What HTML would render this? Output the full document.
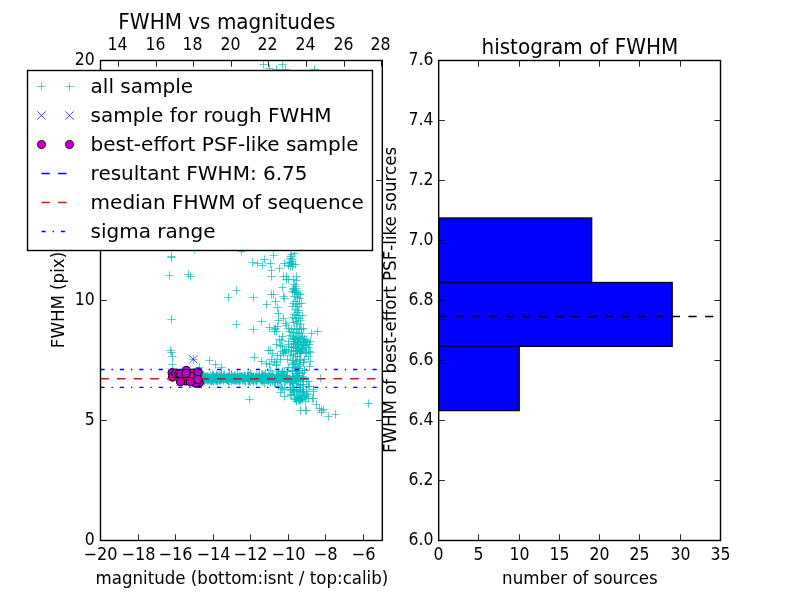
<!DOCTYPE html>
<html><head><meta charset="utf-8"><title>FWHM vs magnitudes</title>
<style>html,body{margin:0;padding:0;background:#fff}svg{display:block}</style></head>
<body>
<svg width="800" height="600" viewBox="0 0 800 600" font-family="DejaVu Sans, Liberation Sans, sans-serif" fill="#000">
<rect width="800" height="600" fill="#fff"/>
<clipPath id="cl"><rect x="100.0" y="60.0" width="281.82" height="480.0"/></clipPath>
<g clip-path="url(#cl)">
<path d="M166.3 350.5h8.3M170.5 346.3v8.3M167.3 352.5h8.3M171.5 348.3v8.3M168.3 356.5h8.3M172.5 352.3v8.3M168.3 364.5h8.3M172.5 360.3v8.3M189.3 359.5h8.3M193.5 355.3v8.3M195.3 367.5h8.3M199.5 363.3v8.3M205.3 360.5h8.3M209.5 356.3v8.3M211.3 364.5h8.3M215.5 360.3v8.3M217.3 367.5h8.3M221.5 363.3v8.3M167.3 256.5h8.3M171.5 252.3v8.3M167.3 257.5h8.3M171.5 253.3v8.3M165.3 275.5h8.3M169.5 271.3v8.3M184.3 274.5h8.3M188.5 270.3v8.3M186.3 276.5h8.3M190.5 272.3v8.3M190.3 249.5h8.3M194.5 245.3v8.3M224.3 297.5h8.3M228.5 293.3v8.3M232.3 290.5h8.3M236.5 286.3v8.3M167.3 319.5h8.3M171.5 315.3v8.3M232.3 324.5h8.3M236.5 320.3v8.3M237.3 251.5h8.3M241.5 247.3v8.3M248.3 262.5h8.3M252.5 258.3v8.3M253.3 263.5h8.3M257.5 259.3v8.3M258.3 265.5h8.3M262.5 261.3v8.3M260.3 259.5h8.3M264.5 255.3v8.3M269.3 255.5h8.3M273.5 251.3v8.3M266.3 263.5h8.3M270.5 259.3v8.3M267.3 270.5h8.3M271.5 266.3v8.3M267.3 276.5h8.3M271.5 272.3v8.3M275.3 268.5h8.3M279.5 264.3v8.3M280.3 263.5h8.3M284.5 259.3v8.3M287.3 254.5h8.3M291.5 250.3v8.3M286.3 258.5h8.3M290.5 254.3v8.3M288.3 259.5h8.3M292.5 255.3v8.3M285.3 262.5h8.3M289.5 258.3v8.3M287.3 263.5h8.3M291.5 259.3v8.3M289.3 264.5h8.3M293.5 260.3v8.3M291.3 264.5h8.3M295.5 260.3v8.3M284.3 265.5h8.3M288.5 261.3v8.3M290.3 253.5h8.3M294.5 249.3v8.3M286.3 256.5h8.3M290.5 252.3v8.3M287.3 261.5h8.3M291.5 257.3v8.3M288.3 266.5h8.3M292.5 262.3v8.3M286.3 266.5h8.3M290.5 262.3v8.3M279.3 276.5h8.3M283.5 272.3v8.3M282.3 276.5h8.3M286.5 272.3v8.3M282.3 279.5h8.3M286.5 275.3v8.3M284.3 279.5h8.3M288.5 275.3v8.3M292.3 276.5h8.3M296.5 272.3v8.3M289.3 279.5h8.3M293.5 275.3v8.3M292.3 280.5h8.3M296.5 276.3v8.3M278.3 287.5h8.3M282.5 283.3v8.3M290.3 284.5h8.3M294.5 280.3v8.3M291.3 286.5h8.3M295.5 282.3v8.3M289.3 288.5h8.3M293.5 284.3v8.3M291.3 290.5h8.3M295.5 286.3v8.3M288.3 291.5h8.3M292.5 287.3v8.3M290.3 292.5h8.3M294.5 288.3v8.3M294.3 293.5h8.3M298.5 289.3v8.3M289.3 289.5h8.3M293.5 285.3v8.3M292.3 288.5h8.3M296.5 284.3v8.3M267.3 294.5h8.3M271.5 290.3v8.3M269.3 294.5h8.3M273.5 290.3v8.3M249.3 297.5h8.3M253.5 293.3v8.3M279.3 296.5h8.3M283.5 292.3v8.3M280.3 298.5h8.3M284.5 294.3v8.3M262.3 304.5h8.3M266.5 300.3v8.3M271.3 301.5h8.3M275.5 297.3v8.3M273.3 307.5h8.3M277.5 303.3v8.3M274.3 313.5h8.3M278.5 309.3v8.3M257.3 321.5h8.3M261.5 317.3v8.3M274.3 320.5h8.3M278.5 316.3v8.3M279.3 318.5h8.3M283.5 314.3v8.3M249.3 329.5h8.3M253.5 325.3v8.3M265.3 327.5h8.3M269.5 323.3v8.3M270.3 329.5h8.3M274.5 325.3v8.3M271.3 328.5h8.3M275.5 324.3v8.3M270.3 331.5h8.3M274.5 327.3v8.3M272.3 331.5h8.3M276.5 327.3v8.3M273.3 326.5h8.3M277.5 322.3v8.3M281.3 323.5h8.3M285.5 319.3v8.3M282.3 325.5h8.3M286.5 321.3v8.3M278.3 336.5h8.3M282.5 332.3v8.3M275.3 339.5h8.3M279.5 335.3v8.3M277.3 340.5h8.3M281.5 336.3v8.3M272.3 344.5h8.3M276.5 340.3v8.3M276.3 345.5h8.3M280.5 341.3v8.3M284.3 344.5h8.3M288.5 340.3v8.3M307.3 333.5h8.3M311.5 329.3v8.3M313.3 331.5h8.3M317.5 327.3v8.3M300.3 339.5h8.3M304.5 335.3v8.3M301.3 342.5h8.3M305.5 338.3v8.3M264.3 350.5h8.3M268.5 346.3v8.3M266.3 350.5h8.3M270.5 346.3v8.3M268.3 353.5h8.3M272.5 349.3v8.3M250.3 357.5h8.3M254.5 353.3v8.3M257.3 361.5h8.3M261.5 357.3v8.3M262.3 363.5h8.3M266.5 359.3v8.3M270.3 361.5h8.3M274.5 357.3v8.3M245.3 399.5h8.3M249.5 395.3v8.3M280.3 396.5h8.3M284.5 392.3v8.3M296.3 410.5h8.3M300.5 406.3v8.3M301.3 410.5h8.3M305.5 406.3v8.3M292.3 401.5h8.3M296.5 397.3v8.3M301.3 401.5h8.3M305.5 397.3v8.3M308.3 398.5h8.3M312.5 394.3v8.3M312.3 404.5h8.3M316.5 400.3v8.3M315.3 408.5h8.3M319.5 404.3v8.3M309.3 391.5h8.3M313.5 387.3v8.3M309.3 389.5h8.3M313.5 385.3v8.3M305.3 366.5h8.3M309.5 362.3v8.3M316.3 378.5h8.3M320.5 374.3v8.3M309.3 398.5h8.3M313.5 394.3v8.3M317.3 410.5h8.3M321.5 406.3v8.3M319.3 409.5h8.3M323.5 405.3v8.3M317.3 412.5h8.3M321.5 408.3v8.3M324.3 416.5h8.3M328.5 412.3v8.3M331.3 414.5h8.3M335.5 410.3v8.3M364.3 403.5h8.3M368.5 399.3v8.3M302.3 410.5h8.3M306.5 406.3v8.3M259.3 64.5h8.3M263.5 60.3v8.3M265.3 68.5h8.3M269.5 64.3v8.3M272.3 69.5h8.3M276.5 65.3v8.3M278.3 64.5h8.3M282.5 60.3v8.3M281.3 69.5h8.3M285.5 65.3v8.3M310.3 69.5h8.3M314.5 65.3v8.3M291.3 291.5h8.3M295.5 287.3v8.3M292.3 292.5h8.3M296.5 288.3v8.3M296.3 294.5h8.3M300.5 290.3v8.3M290.3 296.5h8.3M294.5 292.3v8.3M293.3 297.5h8.3M297.5 293.3v8.3M295.3 298.5h8.3M299.5 294.3v8.3M291.3 301.5h8.3M295.5 297.3v8.3M289.3 303.5h8.3M293.5 299.3v8.3M292.3 304.5h8.3M296.5 300.3v8.3M295.3 303.5h8.3M299.5 299.3v8.3M297.3 303.5h8.3M301.5 299.3v8.3M288.3 306.5h8.3M292.5 302.3v8.3M293.3 306.5h8.3M297.5 302.3v8.3M291.3 309.5h8.3M295.5 305.3v8.3M294.3 310.5h8.3M298.5 306.3v8.3M293.3 312.5h8.3M297.5 308.3v8.3M290.3 314.5h8.3M294.5 310.3v8.3M292.3 315.5h8.3M296.5 311.3v8.3M295.3 315.5h8.3M299.5 311.3v8.3M298.3 315.5h8.3M302.5 311.3v8.3M288.3 317.5h8.3M292.5 313.3v8.3M291.3 318.5h8.3M295.5 314.3v8.3M294.3 318.5h8.3M298.5 314.3v8.3M296.3 320.5h8.3M300.5 316.3v8.3M292.3 321.5h8.3M296.5 317.3v8.3M289.3 322.5h8.3M293.5 318.3v8.3M293.3 323.5h8.3M297.5 319.3v8.3M296.3 324.5h8.3M300.5 320.3v8.3M284.3 328.5h8.3M288.5 324.3v8.3M287.3 329.5h8.3M291.5 325.3v8.3M290.3 328.5h8.3M294.5 324.3v8.3M292.3 329.5h8.3M296.5 325.3v8.3M295.3 328.5h8.3M299.5 324.3v8.3M297.3 329.5h8.3M301.5 325.3v8.3M299.3 328.5h8.3M303.5 324.3v8.3M285.3 331.5h8.3M289.5 327.3v8.3M289.3 332.5h8.3M293.5 328.3v8.3M292.3 333.5h8.3M296.5 329.3v8.3M294.3 332.5h8.3M298.5 328.3v8.3M297.3 333.5h8.3M301.5 329.3v8.3M286.3 335.5h8.3M290.5 331.3v8.3M288.3 336.5h8.3M292.5 332.3v8.3M291.3 337.5h8.3M295.5 333.3v8.3M295.3 337.5h8.3M299.5 333.3v8.3M298.3 336.5h8.3M302.5 332.3v8.3M300.3 339.5h8.3M304.5 335.3v8.3M289.3 341.5h8.3M293.5 337.3v8.3M293.3 342.5h8.3M297.5 338.3v8.3M296.3 342.5h8.3M300.5 338.3v8.3M291.3 344.5h8.3M295.5 340.3v8.3M294.3 345.5h8.3M298.5 341.3v8.3M297.3 345.5h8.3M301.5 341.3v8.3M299.3 344.5h8.3M303.5 340.3v8.3M301.3 345.5h8.3M305.5 341.3v8.3M289.3 347.5h8.3M293.5 343.3v8.3M292.3 348.5h8.3M296.5 344.3v8.3M295.3 348.5h8.3M299.5 344.3v8.3M298.3 348.5h8.3M302.5 344.3v8.3M300.3 347.5h8.3M304.5 343.3v8.3M221.3 379.5h8.3M225.5 375.3v8.3M203.3 379.5h8.3M207.5 375.3v8.3M237.3 378.5h8.3M241.5 374.3v8.3M235.3 378.5h8.3M239.5 374.3v8.3M200.3 377.5h8.3M204.5 373.3v8.3M204.3 378.5h8.3M208.5 374.3v8.3M229.3 378.5h8.3M233.5 374.3v8.3M214.3 377.5h8.3M218.5 373.3v8.3M244.3 380.5h8.3M248.5 376.3v8.3M227.3 377.5h8.3M231.5 373.3v8.3M270.3 382.5h8.3M274.5 378.3v8.3M219.3 379.5h8.3M223.5 375.3v8.3M208.3 379.5h8.3M212.5 375.3v8.3M258.3 379.5h8.3M262.5 375.3v8.3M211.3 376.5h8.3M215.5 372.3v8.3M225.3 377.5h8.3M229.5 373.3v8.3M238.3 378.5h8.3M242.5 374.3v8.3M213.3 378.5h8.3M217.5 374.3v8.3M248.3 377.5h8.3M252.5 373.3v8.3M241.3 378.5h8.3M245.5 374.3v8.3M231.3 377.5h8.3M235.5 373.3v8.3M249.3 381.5h8.3M253.5 377.3v8.3M216.3 377.5h8.3M220.5 373.3v8.3M262.3 377.5h8.3M266.5 373.3v8.3M251.3 377.5h8.3M255.5 373.3v8.3M206.3 381.5h8.3M210.5 377.3v8.3M228.3 378.5h8.3M232.5 374.3v8.3M234.3 377.5h8.3M238.5 373.3v8.3M200.3 377.5h8.3M204.5 373.3v8.3M240.3 376.5h8.3M244.5 372.3v8.3M262.3 377.5h8.3M266.5 373.3v8.3M241.3 380.5h8.3M245.5 376.3v8.3M240.3 375.5h8.3M244.5 371.3v8.3M267.3 379.5h8.3M271.5 375.3v8.3M233.3 378.5h8.3M237.5 374.3v8.3M249.3 377.5h8.3M253.5 373.3v8.3M245.3 381.5h8.3M249.5 377.3v8.3M219.3 378.5h8.3M223.5 374.3v8.3M226.3 378.5h8.3M230.5 374.3v8.3M232.3 378.5h8.3M236.5 374.3v8.3M210.3 378.5h8.3M214.5 374.3v8.3M254.3 378.5h8.3M258.5 374.3v8.3M207.3 378.5h8.3M211.5 374.3v8.3M262.3 379.5h8.3M266.5 375.3v8.3M203.3 376.5h8.3M207.5 372.3v8.3M263.3 379.5h8.3M267.5 375.3v8.3M258.3 379.5h8.3M262.5 375.3v8.3M228.3 377.5h8.3M232.5 373.3v8.3M224.3 381.5h8.3M228.5 377.3v8.3M209.3 375.5h8.3M213.5 371.3v8.3M211.3 378.5h8.3M215.5 374.3v8.3M233.3 379.5h8.3M237.5 375.3v8.3M241.3 378.5h8.3M245.5 374.3v8.3M229.3 378.5h8.3M233.5 374.3v8.3M225.3 374.5h8.3M229.5 370.3v8.3M249.3 376.5h8.3M253.5 372.3v8.3M236.3 376.5h8.3M240.5 372.3v8.3M201.3 377.5h8.3M205.5 373.3v8.3M264.3 379.5h8.3M268.5 375.3v8.3M257.3 374.5h8.3M261.5 370.3v8.3M227.3 377.5h8.3M231.5 373.3v8.3M244.3 378.5h8.3M248.5 374.3v8.3M202.3 379.5h8.3M206.5 375.3v8.3M210.3 378.5h8.3M214.5 374.3v8.3M223.3 378.5h8.3M227.5 374.3v8.3M209.3 378.5h8.3M213.5 374.3v8.3M205.3 378.5h8.3M209.5 374.3v8.3M262.3 378.5h8.3M266.5 374.3v8.3M243.3 379.5h8.3M247.5 375.3v8.3M223.3 379.5h8.3M227.5 375.3v8.3M224.3 380.5h8.3M228.5 376.3v8.3M271.3 380.5h8.3M275.5 376.3v8.3M232.3 377.5h8.3M236.5 373.3v8.3M205.3 378.5h8.3M209.5 374.3v8.3M223.3 378.5h8.3M227.5 374.3v8.3M209.3 381.5h8.3M213.5 377.3v8.3M199.3 380.5h8.3M203.5 376.3v8.3M208.3 377.5h8.3M212.5 373.3v8.3M238.3 380.5h8.3M242.5 376.3v8.3M270.3 378.5h8.3M274.5 374.3v8.3M261.3 377.5h8.3M265.5 373.3v8.3M225.3 377.5h8.3M229.5 373.3v8.3M210.3 378.5h8.3M214.5 374.3v8.3M255.3 376.5h8.3M259.5 372.3v8.3M222.3 378.5h8.3M226.5 374.3v8.3M270.3 381.5h8.3M274.5 377.3v8.3M261.3 379.5h8.3M265.5 375.3v8.3M252.3 375.5h8.3M256.5 371.3v8.3M214.3 377.5h8.3M218.5 373.3v8.3M200.3 378.5h8.3M204.5 374.3v8.3M200.3 378.5h8.3M204.5 374.3v8.3M249.3 379.5h8.3M253.5 375.3v8.3M268.3 374.5h8.3M272.5 370.3v8.3M271.3 379.5h8.3M275.5 375.3v8.3M268.3 377.5h8.3M272.5 373.3v8.3M214.3 379.5h8.3M218.5 375.3v8.3M212.3 379.5h8.3M216.5 375.3v8.3M264.3 380.5h8.3M268.5 376.3v8.3M260.3 375.5h8.3M264.5 371.3v8.3M257.3 378.5h8.3M261.5 374.3v8.3M204.3 376.5h8.3M208.5 372.3v8.3M255.3 375.5h8.3M259.5 371.3v8.3M253.3 377.5h8.3M257.5 373.3v8.3M256.3 378.5h8.3M260.5 374.3v8.3M222.3 379.5h8.3M226.5 375.3v8.3M227.3 374.5h8.3M231.5 370.3v8.3M227.3 380.5h8.3M231.5 376.3v8.3M210.3 377.5h8.3M214.5 373.3v8.3M207.3 380.5h8.3M211.5 376.3v8.3M257.3 381.5h8.3M261.5 377.3v8.3M208.3 380.5h8.3M212.5 376.3v8.3M246.3 373.5h8.3M250.5 369.3v8.3M223.3 377.5h8.3M227.5 373.3v8.3M199.3 378.5h8.3M203.5 374.3v8.3M269.3 377.5h8.3M273.5 373.3v8.3M267.3 376.5h8.3M271.5 372.3v8.3M230.3 380.5h8.3M234.5 376.3v8.3M213.3 376.5h8.3M217.5 372.3v8.3M216.3 378.5h8.3M220.5 374.3v8.3M241.3 379.5h8.3M245.5 375.3v8.3M217.3 377.5h8.3M221.5 373.3v8.3M265.3 378.5h8.3M269.5 374.3v8.3M224.3 376.5h8.3M228.5 372.3v8.3M264.3 378.5h8.3M268.5 374.3v8.3M229.3 379.5h8.3M233.5 375.3v8.3M237.3 377.5h8.3M241.5 373.3v8.3M236.3 380.5h8.3M240.5 376.3v8.3M211.3 378.5h8.3M215.5 374.3v8.3M198.3 378.5h8.3M202.5 374.3v8.3M233.3 377.5h8.3M237.5 373.3v8.3M251.3 377.5h8.3M255.5 373.3v8.3M236.3 377.5h8.3M240.5 373.3v8.3M239.3 378.5h8.3M243.5 374.3v8.3M239.3 377.5h8.3M243.5 373.3v8.3M216.3 378.5h8.3M220.5 374.3v8.3M235.3 381.5h8.3M239.5 377.3v8.3M239.3 378.5h8.3M243.5 374.3v8.3M230.3 375.5h8.3M234.5 371.3v8.3M243.3 376.5h8.3M247.5 372.3v8.3M249.3 378.5h8.3M253.5 374.3v8.3M231.3 376.5h8.3M235.5 372.3v8.3M267.3 377.5h8.3M271.5 373.3v8.3M249.3 381.5h8.3M253.5 377.3v8.3M217.3 376.5h8.3M221.5 372.3v8.3M239.3 380.5h8.3M243.5 376.3v8.3M208.3 377.5h8.3M212.5 373.3v8.3M207.3 377.5h8.3M211.5 373.3v8.3M215.3 378.5h8.3M219.5 374.3v8.3M203.3 377.5h8.3M207.5 373.3v8.3M264.3 375.5h8.3M268.5 371.3v8.3M209.3 377.5h8.3M213.5 373.3v8.3M208.3 376.5h8.3M212.5 372.3v8.3M263.3 379.5h8.3M267.5 375.3v8.3M268.3 378.5h8.3M272.5 374.3v8.3M227.3 374.5h8.3M231.5 370.3v8.3M259.3 378.5h8.3M263.5 374.3v8.3M209.3 376.5h8.3M213.5 372.3v8.3M223.3 379.5h8.3M227.5 375.3v8.3M212.3 377.5h8.3M216.5 373.3v8.3M199.3 380.5h8.3M203.5 376.3v8.3M238.3 378.5h8.3M242.5 374.3v8.3M222.3 378.5h8.3M226.5 374.3v8.3M244.3 377.5h8.3M248.5 373.3v8.3M270.3 378.5h8.3M274.5 374.3v8.3M256.3 379.5h8.3M260.5 375.3v8.3M217.3 378.5h8.3M221.5 374.3v8.3M200.3 378.5h8.3M204.5 374.3v8.3M207.3 377.5h8.3M211.5 373.3v8.3M229.3 380.5h8.3M233.5 376.3v8.3M217.3 377.5h8.3M221.5 373.3v8.3M209.3 380.5h8.3M213.5 376.3v8.3M249.3 377.5h8.3M253.5 373.3v8.3M204.3 380.5h8.3M208.5 376.3v8.3M229.3 379.5h8.3M233.5 375.3v8.3M203.3 380.5h8.3M207.5 376.3v8.3M257.3 377.5h8.3M261.5 373.3v8.3M204.3 378.5h8.3M208.5 374.3v8.3M261.3 377.5h8.3M265.5 373.3v8.3M231.3 377.5h8.3M235.5 373.3v8.3M266.3 380.5h8.3M270.5 376.3v8.3M217.3 379.5h8.3M221.5 375.3v8.3M215.3 379.5h8.3M219.5 375.3v8.3M206.3 378.5h8.3M210.5 374.3v8.3M212.3 378.5h8.3M216.5 374.3v8.3M221.3 377.5h8.3M225.5 373.3v8.3M219.3 380.5h8.3M223.5 376.3v8.3M235.3 379.5h8.3M239.5 375.3v8.3M199.3 379.5h8.3M203.5 375.3v8.3M216.3 380.5h8.3M220.5 376.3v8.3M238.3 378.5h8.3M242.5 374.3v8.3M212.3 374.5h8.3M216.5 370.3v8.3M205.3 378.5h8.3M209.5 374.3v8.3M258.3 376.5h8.3M262.5 372.3v8.3M259.3 379.5h8.3M263.5 375.3v8.3M227.3 376.5h8.3M231.5 372.3v8.3M270.3 378.5h8.3M274.5 374.3v8.3M223.3 379.5h8.3M227.5 375.3v8.3M245.3 375.5h8.3M249.5 371.3v8.3M227.3 378.5h8.3M231.5 374.3v8.3M207.3 378.5h8.3M211.5 374.3v8.3M203.3 378.5h8.3M207.5 374.3v8.3M210.3 377.5h8.3M214.5 373.3v8.3M204.3 379.5h8.3M208.5 375.3v8.3M247.3 375.5h8.3M251.5 371.3v8.3M218.3 378.5h8.3M222.5 374.3v8.3M231.3 379.5h8.3M235.5 375.3v8.3M209.3 377.5h8.3M213.5 373.3v8.3M269.3 378.5h8.3M273.5 374.3v8.3M269.3 377.5h8.3M273.5 373.3v8.3M269.3 377.5h8.3M273.5 373.3v8.3M220.3 378.5h8.3M224.5 374.3v8.3M226.3 378.5h8.3M230.5 374.3v8.3M233.3 377.5h8.3M237.5 373.3v8.3M235.3 378.5h8.3M239.5 374.3v8.3M198.3 378.5h8.3M202.5 374.3v8.3M227.3 378.5h8.3M231.5 374.3v8.3M201.3 379.5h8.3M205.5 375.3v8.3M215.3 378.5h8.3M219.5 374.3v8.3M241.3 376.5h8.3M245.5 372.3v8.3M246.3 377.5h8.3M250.5 373.3v8.3M250.3 379.5h8.3M254.5 375.3v8.3M222.3 377.5h8.3M226.5 373.3v8.3M270.3 380.5h8.3M274.5 376.3v8.3M245.3 380.5h8.3M249.5 376.3v8.3M201.3 379.5h8.3M205.5 375.3v8.3M244.3 375.5h8.3M248.5 371.3v8.3M252.3 378.5h8.3M256.5 374.3v8.3M236.3 377.5h8.3M240.5 373.3v8.3M235.3 379.5h8.3M239.5 375.3v8.3M259.3 375.5h8.3M263.5 371.3v8.3M241.3 380.5h8.3M245.5 376.3v8.3M249.3 376.5h8.3M253.5 372.3v8.3M215.3 379.5h8.3M219.5 375.3v8.3M224.3 378.5h8.3M228.5 374.3v8.3M205.3 379.5h8.3M209.5 375.3v8.3M244.3 376.5h8.3M248.5 372.3v8.3M244.3 377.5h8.3M248.5 373.3v8.3M198.3 376.5h8.3M202.5 372.3v8.3M257.3 378.5h8.3M261.5 374.3v8.3M237.3 376.5h8.3M241.5 372.3v8.3M246.3 381.5h8.3M250.5 377.3v8.3M216.3 379.5h8.3M220.5 375.3v8.3M203.3 378.5h8.3M207.5 374.3v8.3M213.3 380.5h8.3M217.5 376.3v8.3M252.3 380.5h8.3M256.5 376.3v8.3M226.3 378.5h8.3M230.5 374.3v8.3M233.3 377.5h8.3M237.5 373.3v8.3M243.3 375.5h8.3M247.5 371.3v8.3M245.3 379.5h8.3M249.5 375.3v8.3M216.3 378.5h8.3M220.5 374.3v8.3M252.3 377.5h8.3M256.5 373.3v8.3M198.3 380.5h8.3M202.5 376.3v8.3M202.3 378.5h8.3M206.5 374.3v8.3M249.3 380.5h8.3M253.5 376.3v8.3M248.3 377.5h8.3M252.5 373.3v8.3M232.3 380.5h8.3M236.5 376.3v8.3M232.3 380.5h8.3M236.5 376.3v8.3M212.3 380.5h8.3M216.5 376.3v8.3M270.3 378.5h8.3M274.5 374.3v8.3M231.3 378.5h8.3M235.5 374.3v8.3M258.3 380.5h8.3M262.5 376.3v8.3M217.3 378.5h8.3M221.5 374.3v8.3M213.3 379.5h8.3M217.5 375.3v8.3M241.3 378.5h8.3M245.5 374.3v8.3M208.3 374.5h8.3M212.5 370.3v8.3M207.3 377.5h8.3M211.5 373.3v8.3M258.3 374.5h8.3M262.5 370.3v8.3M250.3 378.5h8.3M254.5 374.3v8.3M215.3 379.5h8.3M219.5 375.3v8.3M199.3 377.5h8.3M203.5 373.3v8.3M198.3 376.5h8.3M202.5 372.3v8.3M220.3 378.5h8.3M224.5 374.3v8.3M208.3 377.5h8.3M212.5 373.3v8.3M260.3 379.5h8.3M264.5 375.3v8.3M198.3 378.5h8.3M202.5 374.3v8.3M206.3 375.5h8.3M210.5 371.3v8.3M266.3 377.5h8.3M270.5 373.3v8.3M219.3 375.5h8.3M223.5 371.3v8.3M225.3 374.5h8.3M229.5 370.3v8.3M241.3 381.5h8.3M245.5 377.3v8.3M224.3 377.5h8.3M228.5 373.3v8.3M201.3 378.5h8.3M205.5 374.3v8.3M205.3 378.5h8.3M209.5 374.3v8.3M267.3 377.5h8.3M271.5 373.3v8.3M216.3 378.5h8.3M220.5 374.3v8.3M212.3 380.5h8.3M216.5 376.3v8.3M225.3 381.5h8.3M229.5 377.3v8.3M258.3 377.5h8.3M262.5 373.3v8.3M244.3 381.5h8.3M248.5 377.3v8.3M238.3 376.5h8.3M242.5 372.3v8.3M251.3 380.5h8.3M255.5 376.3v8.3M231.3 379.5h8.3M235.5 375.3v8.3M253.3 377.5h8.3M257.5 373.3v8.3M201.3 377.5h8.3M205.5 373.3v8.3M266.3 379.5h8.3M270.5 375.3v8.3M223.3 379.5h8.3M227.5 375.3v8.3M220.3 378.5h8.3M224.5 374.3v8.3M217.3 374.5h8.3M221.5 370.3v8.3M246.3 377.5h8.3M250.5 373.3v8.3M227.3 380.5h8.3M231.5 376.3v8.3M210.3 378.5h8.3M214.5 374.3v8.3M265.3 379.5h8.3M269.5 375.3v8.3M234.3 379.5h8.3M238.5 375.3v8.3M271.3 382.5h8.3M275.5 378.3v8.3M231.3 379.5h8.3M235.5 375.3v8.3M204.3 379.5h8.3M208.5 375.3v8.3M223.3 379.5h8.3M227.5 375.3v8.3M217.3 378.5h8.3M221.5 374.3v8.3M240.3 380.5h8.3M244.5 376.3v8.3M228.3 376.5h8.3M232.5 372.3v8.3M228.3 377.5h8.3M232.5 373.3v8.3M223.3 378.5h8.3M227.5 374.3v8.3M202.3 377.5h8.3M206.5 373.3v8.3M207.3 381.5h8.3M211.5 377.3v8.3M235.3 376.5h8.3M239.5 372.3v8.3M213.3 376.5h8.3M217.5 372.3v8.3M218.3 378.5h8.3M222.5 374.3v8.3M230.3 379.5h8.3M234.5 375.3v8.3M268.3 380.5h8.3M272.5 376.3v8.3M199.3 375.5h8.3M203.5 371.3v8.3M200.3 377.5h8.3M204.5 373.3v8.3M233.3 374.5h8.3M237.5 370.3v8.3M241.3 379.5h8.3M245.5 375.3v8.3M266.3 378.5h8.3M270.5 374.3v8.3M259.3 381.5h8.3M263.5 377.3v8.3M216.3 375.5h8.3M220.5 371.3v8.3M206.3 379.5h8.3M210.5 375.3v8.3M248.3 380.5h8.3M252.5 376.3v8.3M267.3 377.5h8.3M271.5 373.3v8.3M254.3 376.5h8.3M258.5 372.3v8.3M231.3 377.5h8.3M235.5 373.3v8.3M255.3 378.5h8.3M259.5 374.3v8.3M215.3 380.5h8.3M219.5 376.3v8.3M220.3 377.5h8.3M224.5 373.3v8.3M207.3 378.5h8.3M211.5 374.3v8.3M249.3 380.5h8.3M253.5 376.3v8.3M206.3 379.5h8.3M210.5 375.3v8.3M241.3 379.5h8.3M245.5 375.3v8.3M226.3 378.5h8.3M230.5 374.3v8.3M198.3 380.5h8.3M202.5 376.3v8.3M220.3 374.5h8.3M224.5 370.3v8.3M245.3 379.5h8.3M249.5 375.3v8.3M263.3 377.5h8.3M267.5 373.3v8.3M216.3 378.5h8.3M220.5 374.3v8.3M269.3 377.5h8.3M273.5 373.3v8.3M199.3 377.5h8.3M203.5 373.3v8.3M234.3 377.5h8.3M238.5 373.3v8.3M217.3 377.5h8.3M221.5 373.3v8.3M247.3 379.5h8.3M251.5 375.3v8.3M200.3 377.5h8.3M204.5 373.3v8.3M223.3 376.5h8.3M227.5 372.3v8.3M212.3 379.5h8.3M216.5 375.3v8.3M256.3 378.5h8.3M260.5 374.3v8.3M213.3 376.5h8.3M217.5 372.3v8.3M269.3 377.5h8.3M273.5 373.3v8.3M215.3 380.5h8.3M219.5 376.3v8.3M214.3 378.5h8.3M218.5 374.3v8.3M268.3 376.5h8.3M272.5 372.3v8.3M234.3 378.5h8.3M238.5 374.3v8.3M228.3 379.5h8.3M232.5 375.3v8.3M247.3 379.5h8.3M251.5 375.3v8.3M227.3 378.5h8.3M231.5 374.3v8.3M213.3 379.5h8.3M217.5 375.3v8.3M201.3 378.5h8.3M205.5 374.3v8.3M202.3 376.5h8.3M206.5 372.3v8.3M263.3 380.5h8.3M267.5 376.3v8.3M252.3 381.5h8.3M256.5 377.3v8.3M222.3 378.5h8.3M226.5 374.3v8.3M211.3 380.5h8.3M215.5 376.3v8.3M200.3 377.5h8.3M204.5 373.3v8.3M247.3 377.5h8.3M251.5 373.3v8.3M222.3 379.5h8.3M226.5 375.3v8.3M210.3 379.5h8.3M214.5 375.3v8.3M224.3 378.5h8.3M228.5 374.3v8.3M268.3 381.5h8.3M272.5 377.3v8.3M213.3 381.5h8.3M217.5 377.3v8.3M224.3 379.5h8.3M228.5 375.3v8.3M230.3 376.5h8.3M234.5 372.3v8.3M201.3 377.5h8.3M205.5 373.3v8.3M266.3 378.5h8.3M270.5 374.3v8.3M212.3 376.5h8.3M216.5 372.3v8.3M200.3 380.5h8.3M204.5 376.3v8.3M228.3 379.5h8.3M232.5 375.3v8.3M201.3 376.5h8.3M205.5 372.3v8.3M200.3 381.5h8.3M204.5 377.3v8.3M217.3 379.5h8.3M221.5 375.3v8.3M253.3 379.5h8.3M257.5 375.3v8.3M218.3 377.5h8.3M222.5 373.3v8.3M268.3 377.5h8.3M272.5 373.3v8.3M251.3 377.5h8.3M255.5 373.3v8.3M221.3 378.5h8.3M225.5 374.3v8.3M253.3 378.5h8.3M257.5 374.3v8.3M265.3 375.5h8.3M269.5 371.3v8.3M199.3 375.5h8.3M203.5 371.3v8.3M215.3 375.5h8.3M219.5 371.3v8.3M268.3 379.5h8.3M272.5 375.3v8.3M226.3 378.5h8.3M230.5 374.3v8.3M234.3 380.5h8.3M238.5 376.3v8.3M266.3 379.5h8.3M270.5 375.3v8.3M252.3 380.5h8.3M256.5 376.3v8.3M291.3 378.5h8.3M295.5 374.3v8.3M279.3 374.5h8.3M283.5 370.3v8.3M279.3 375.5h8.3M283.5 371.3v8.3M273.3 381.5h8.3M277.5 377.3v8.3M276.3 378.5h8.3M280.5 374.3v8.3M273.3 376.5h8.3M277.5 372.3v8.3M272.3 376.5h8.3M276.5 372.3v8.3M295.3 377.5h8.3M299.5 373.3v8.3M293.3 380.5h8.3M297.5 376.3v8.3M274.3 378.5h8.3M278.5 374.3v8.3M274.3 374.5h8.3M278.5 370.3v8.3M282.3 378.5h8.3M286.5 374.3v8.3M277.3 375.5h8.3M281.5 371.3v8.3M288.3 380.5h8.3M292.5 376.3v8.3M289.3 380.5h8.3M293.5 376.3v8.3M274.3 375.5h8.3M278.5 371.3v8.3M292.3 377.5h8.3M296.5 373.3v8.3M280.3 381.5h8.3M284.5 377.3v8.3M289.3 378.5h8.3M293.5 374.3v8.3M277.3 380.5h8.3M281.5 376.3v8.3M275.3 380.5h8.3M279.5 376.3v8.3M279.3 376.5h8.3M283.5 372.3v8.3M281.3 381.5h8.3M285.5 377.3v8.3M277.3 378.5h8.3M281.5 374.3v8.3M291.3 373.5h8.3M295.5 369.3v8.3M274.3 371.5h8.3M278.5 367.3v8.3M283.3 380.5h8.3M287.5 376.3v8.3M293.3 373.5h8.3M297.5 369.3v8.3M272.3 377.5h8.3M276.5 373.3v8.3M276.3 379.5h8.3M280.5 375.3v8.3M295.3 373.5h8.3M299.5 369.3v8.3M280.3 375.5h8.3M284.5 371.3v8.3M292.3 376.5h8.3M296.5 372.3v8.3M290.3 378.5h8.3M294.5 374.3v8.3M294.3 381.5h8.3M298.5 377.3v8.3M286.3 380.5h8.3M290.5 376.3v8.3M277.3 377.5h8.3M281.5 373.3v8.3M276.3 379.5h8.3M280.5 375.3v8.3M278.3 375.5h8.3M282.5 371.3v8.3M276.3 376.5h8.3M280.5 372.3v8.3M272.3 376.5h8.3M276.5 372.3v8.3M276.3 381.5h8.3M280.5 377.3v8.3M279.3 379.5h8.3M283.5 375.3v8.3M285.3 382.5h8.3M289.5 378.3v8.3M273.3 380.5h8.3M277.5 376.3v8.3M285.3 379.5h8.3M289.5 375.3v8.3M287.3 379.5h8.3M291.5 375.3v8.3M288.3 379.5h8.3M292.5 375.3v8.3M281.3 377.5h8.3M285.5 373.3v8.3M294.3 380.5h8.3M298.5 376.3v8.3M279.3 376.5h8.3M283.5 372.3v8.3M281.3 377.5h8.3M285.5 373.3v8.3M292.3 380.5h8.3M296.5 376.3v8.3M276.3 378.5h8.3M280.5 374.3v8.3M289.3 378.5h8.3M293.5 374.3v8.3M293.3 378.5h8.3M297.5 374.3v8.3M282.3 379.5h8.3M286.5 375.3v8.3M293.3 375.5h8.3M297.5 371.3v8.3M283.3 378.5h8.3M287.5 374.3v8.3M285.3 378.5h8.3M289.5 374.3v8.3M290.3 398.5h8.3M294.5 394.3v8.3M289.3 362.5h8.3M293.5 358.3v8.3M305.3 351.5h8.3M309.5 347.3v8.3M289.3 392.5h8.3M293.5 388.3v8.3M296.3 352.5h8.3M300.5 348.3v8.3M299.3 392.5h8.3M303.5 388.3v8.3M278.3 346.5h8.3M282.5 342.3v8.3M294.3 397.5h8.3M298.5 393.3v8.3M286.3 387.5h8.3M290.5 383.3v8.3M299.3 345.5h8.3M303.5 341.3v8.3M285.3 379.5h8.3M289.5 375.3v8.3M290.3 367.5h8.3M294.5 363.3v8.3M284.3 341.5h8.3M288.5 337.3v8.3M303.3 342.5h8.3M307.5 338.3v8.3M295.3 348.5h8.3M299.5 344.3v8.3M283.3 359.5h8.3M287.5 355.3v8.3M289.3 364.5h8.3M293.5 360.3v8.3M287.3 381.5h8.3M291.5 377.3v8.3M290.3 339.5h8.3M294.5 335.3v8.3M287.3 351.5h8.3M291.5 347.3v8.3M296.3 364.5h8.3M300.5 360.3v8.3M304.3 386.5h8.3M308.5 382.3v8.3M302.3 340.5h8.3M306.5 336.3v8.3M279.3 353.5h8.3M283.5 349.3v8.3M296.3 338.5h8.3M300.5 334.3v8.3M304.3 347.5h8.3M308.5 343.3v8.3M288.3 371.5h8.3M292.5 367.3v8.3M298.3 349.5h8.3M302.5 345.3v8.3M295.3 368.5h8.3M299.5 364.3v8.3M281.3 352.5h8.3M285.5 348.3v8.3M299.3 384.5h8.3M303.5 380.3v8.3M295.3 359.5h8.3M299.5 355.3v8.3M289.3 383.5h8.3M293.5 379.3v8.3M292.3 394.5h8.3M296.5 390.3v8.3M294.3 375.5h8.3M298.5 371.3v8.3M269.3 379.5h8.3M273.5 375.3v8.3M302.3 347.5h8.3M306.5 343.3v8.3M292.3 379.5h8.3M296.5 375.3v8.3M294.3 342.5h8.3M298.5 338.3v8.3M299.3 391.5h8.3M303.5 387.3v8.3M298.3 379.5h8.3M302.5 375.3v8.3M295.3 351.5h8.3M299.5 347.3v8.3M280.3 389.5h8.3M284.5 385.3v8.3M293.3 373.5h8.3M297.5 369.3v8.3M297.3 350.5h8.3M301.5 346.3v8.3M276.3 392.5h8.3M280.5 388.3v8.3M304.3 356.5h8.3M308.5 352.3v8.3M292.3 370.5h8.3M296.5 366.3v8.3M289.3 343.5h8.3M293.5 339.3v8.3M292.3 389.5h8.3M296.5 385.3v8.3M295.3 387.5h8.3M299.5 383.3v8.3M276.3 359.5h8.3M280.5 355.3v8.3M299.3 381.5h8.3M303.5 377.3v8.3M287.3 346.5h8.3M291.5 342.3v8.3M301.3 353.5h8.3M305.5 349.3v8.3M267.3 359.5h8.3M271.5 355.3v8.3M305.3 386.5h8.3M309.5 382.3v8.3M305.3 344.5h8.3M309.5 340.3v8.3M283.3 379.5h8.3M287.5 375.3v8.3M294.3 397.5h8.3M298.5 393.3v8.3M286.3 387.5h8.3M290.5 383.3v8.3M296.3 384.5h8.3M300.5 380.3v8.3M291.3 380.5h8.3M295.5 376.3v8.3M274.3 379.5h8.3M278.5 375.3v8.3M289.3 354.5h8.3M293.5 350.3v8.3M281.3 379.5h8.3M285.5 375.3v8.3M291.3 399.5h8.3M295.5 395.3v8.3M290.3 389.5h8.3M294.5 385.3v8.3M261.3 373.5h8.3M265.5 369.3v8.3M296.3 400.5h8.3M300.5 396.3v8.3M293.3 371.5h8.3M297.5 367.3v8.3M298.3 372.5h8.3M302.5 368.3v8.3M278.3 388.5h8.3M282.5 384.3v8.3M306.3 361.5h8.3M310.5 357.3v8.3M272.3 364.5h8.3M276.5 360.3v8.3M276.3 355.5h8.3M280.5 351.3v8.3M294.3 400.5h8.3M298.5 396.3v8.3M278.3 351.5h8.3M282.5 347.3v8.3M296.3 391.5h8.3M300.5 387.3v8.3M282.3 375.5h8.3M286.5 371.3v8.3M298.3 391.5h8.3M302.5 387.3v8.3M273.3 374.5h8.3M277.5 370.3v8.3M272.3 362.5h8.3M276.5 358.3v8.3M280.3 350.5h8.3M284.5 346.3v8.3M293.3 356.5h8.3M297.5 352.3v8.3M289.3 381.5h8.3M293.5 377.3v8.3M303.3 394.5h8.3M307.5 390.3v8.3M298.3 397.5h8.3M302.5 393.3v8.3M289.3 338.5h8.3M293.5 334.3v8.3M304.3 381.5h8.3M308.5 377.3v8.3M297.3 349.5h8.3M301.5 345.3v8.3M288.3 389.5h8.3M292.5 385.3v8.3M294.3 366.5h8.3M298.5 362.3v8.3M286.3 355.5h8.3M290.5 351.3v8.3M266.3 370.5h8.3M270.5 366.3v8.3M299.3 362.5h8.3M303.5 358.3v8.3M289.3 339.5h8.3M293.5 335.3v8.3M292.3 399.5h8.3M296.5 395.3v8.3M289.3 360.5h8.3M293.5 356.3v8.3M296.3 351.5h8.3M300.5 347.3v8.3M278.3 371.5h8.3M282.5 367.3v8.3M290.3 390.5h8.3M294.5 386.3v8.3M289.3 389.5h8.3M293.5 385.3v8.3M293.3 396.5h8.3M297.5 392.3v8.3M297.3 398.5h8.3M301.5 394.3v8.3M288.3 379.5h8.3M292.5 375.3v8.3M288.3 382.5h8.3M292.5 378.3v8.3M291.3 368.5h8.3M295.5 364.3v8.3M302.3 381.5h8.3M306.5 377.3v8.3M298.3 389.5h8.3M302.5 385.3v8.3M264.3 380.5h8.3M268.5 376.3v8.3M260.3 383.5h8.3M264.5 379.3v8.3M293.3 353.5h8.3M297.5 349.3v8.3M296.3 385.5h8.3M300.5 381.3v8.3M294.3 343.5h8.3M298.5 339.3v8.3M293.3 368.5h8.3M297.5 364.3v8.3M293.3 338.5h8.3M297.5 334.3v8.3M290.3 391.5h8.3M294.5 387.3v8.3M274.3 386.5h8.3M278.5 382.3v8.3M300.3 370.5h8.3M304.5 366.3v8.3M291.3 347.5h8.3M295.5 343.3v8.3M299.3 377.5h8.3M303.5 373.3v8.3M302.3 391.5h8.3M306.5 387.3v8.3M298.3 395.5h8.3M302.5 391.3v8.3M286.3 390.5h8.3M290.5 386.3v8.3M295.3 399.5h8.3M299.5 395.3v8.3M288.3 382.5h8.3M292.5 378.3v8.3M295.3 390.5h8.3M299.5 386.3v8.3M296.3 353.5h8.3M300.5 349.3v8.3M302.3 396.5h8.3M306.5 392.3v8.3M282.3 376.5h8.3M286.5 372.3v8.3M292.3 361.5h8.3M296.5 357.3v8.3M278.3 372.5h8.3M282.5 368.3v8.3M289.3 389.5h8.3M293.5 385.3v8.3M288.3 360.5h8.3M292.5 356.3v8.3M296.3 392.5h8.3M300.5 388.3v8.3M286.3 395.5h8.3M290.5 391.3v8.3M304.3 398.5h8.3M308.5 394.3v8.3M288.3 364.5h8.3M292.5 360.3v8.3M291.3 363.5h8.3M295.5 359.3v8.3M306.3 352.5h8.3M310.5 348.3v8.3M302.3 393.5h8.3M306.5 389.3v8.3M296.3 384.5h8.3M300.5 380.3v8.3M306.3 341.5h8.3M310.5 337.3v8.3M295.3 399.5h8.3M299.5 395.3v8.3M282.3 349.5h8.3M286.5 345.3v8.3M266.3 382.5h8.3M270.5 378.3v8.3M293.3 350.5h8.3M297.5 346.3v8.3M300.3 396.5h8.3M304.5 392.3v8.3M299.3 379.5h8.3M303.5 375.3v8.3M289.3 347.5h8.3M293.5 343.3v8.3M272.3 365.5h8.3M276.5 361.3v8.3M291.3 351.5h8.3M295.5 347.3v8.3M273.3 355.5h8.3M277.5 351.3v8.3M284.3 350.5h8.3M288.5 346.3v8.3M302.3 352.5h8.3M306.5 348.3v8.3M296.3 384.5h8.3M300.5 380.3v8.3M288.3 370.5h8.3M292.5 366.3v8.3M298.3 376.5h8.3M302.5 372.3v8.3M293.3 341.5h8.3M297.5 337.3v8.3M300.3 370.5h8.3M304.5 366.3v8.3M299.3 362.5h8.3M303.5 358.3v8.3M277.3 377.5h8.3M281.5 373.3v8.3M284.3 367.5h8.3M288.5 363.3v8.3M300.3 359.5h8.3M304.5 355.3v8.3M277.3 387.5h8.3M281.5 383.3v8.3M283.3 371.5h8.3M287.5 367.3v8.3M298.3 339.5h8.3M302.5 335.3v8.3M292.3 350.5h8.3M296.5 346.3v8.3M288.3 376.5h8.3M292.5 372.3v8.3M293.3 344.5h8.3M297.5 340.3v8.3M293.3 340.5h8.3M297.5 336.3v8.3M283.3 371.5h8.3M287.5 367.3v8.3M265.3 364.5h8.3M269.5 360.3v8.3M287.3 394.5h8.3M291.5 390.3v8.3M286.3 387.5h8.3M290.5 383.3v8.3M298.3 399.5h8.3M302.5 395.3v8.3M296.3 360.5h8.3M300.5 356.3v8.3M297.3 398.5h8.3M301.5 394.3v8.3M299.3 341.5h8.3M303.5 337.3v8.3M277.3 373.5h8.3M281.5 369.3v8.3M280.3 371.5h8.3M284.5 367.3v8.3M296.3 399.5h8.3M300.5 395.3v8.3M298.3 396.5h8.3M302.5 392.3v8.3M291.3 356.5h8.3M295.5 352.3v8.3" stroke="#00bfbf" stroke-width="0.7" fill="none"/>
<path d="M189.1 355.1l8.3 8.3M189.1 363.5l8.3 -8.3" stroke="#0000ff" stroke-width="0.7" fill="none"/>
<path d="M182.1 366.3l8.3 8.3M182.1 374.7l8.3 -8.3" stroke="#0000ff" stroke-width="0.7" fill="none"/>
<path d="M168.0 368.5l8.3 8.3M168.0 376.9l8.3 -8.3" stroke="#0000ff" stroke-width="0.7" fill="none"/>
<path d="M168.4 372.8l8.3 8.3M168.4 381.2l8.3 -8.3" stroke="#0000ff" stroke-width="0.7" fill="none"/>
<path d="M171.6 369.0l8.3 8.3M171.6 377.4l8.3 -8.3" stroke="#0000ff" stroke-width="0.7" fill="none"/>
<path d="M174.7 369.6l8.3 8.3M174.7 378.0l8.3 -8.3" stroke="#0000ff" stroke-width="0.7" fill="none"/>
<path d="M176.8 369.6l8.3 8.3M176.8 378.0l8.3 -8.3" stroke="#0000ff" stroke-width="0.7" fill="none"/>
<path d="M188.4 369.0l8.3 8.3M188.4 377.4l8.3 -8.3" stroke="#0000ff" stroke-width="0.7" fill="none"/>
<path d="M187.0 372.3l8.3 8.3M187.0 380.7l8.3 -8.3" stroke="#0000ff" stroke-width="0.7" fill="none"/>
<path d="M193.9 367.9l8.3 8.3M193.9 376.3l8.3 -8.3" stroke="#0000ff" stroke-width="0.7" fill="none"/>
<path d="M181.3 376.3l8.3 8.3M181.3 384.7l8.3 -8.3" stroke="#0000ff" stroke-width="0.7" fill="none"/>
<path d="M195.0 378.4l8.3 8.3M195.0 386.8l8.3 -8.3" stroke="#0000ff" stroke-width="0.7" fill="none"/>
<path d="M191.7 379.0l8.3 8.3M191.7 387.4l8.3 -8.3" stroke="#0000ff" stroke-width="0.7" fill="none"/>
<path d="M181.8 369.3l8.3 8.3M181.8 377.7l8.3 -8.3" stroke="#0000ff" stroke-width="0.7" fill="none"/>
<path d="M176.3 377.5l8.3 8.3M176.3 385.9l8.3 -8.3" stroke="#0000ff" stroke-width="0.7" fill="none"/>
<path d="M186.2 377.5l8.3 8.3M186.2 385.9l8.3 -8.3" stroke="#0000ff" stroke-width="0.7" fill="none"/>
<path d="M193.6 375.3l8.3 8.3M193.6 383.7l8.3 -8.3" stroke="#0000ff" stroke-width="0.7" fill="none"/>
<circle cx="186.3" cy="370.5" r="4.17" fill="#bf00bf" stroke="#000" stroke-width="1"/>
<circle cx="172.2" cy="372.7" r="4.17" fill="#bf00bf" stroke="#000" stroke-width="1"/>
<circle cx="172.6" cy="377" r="4.17" fill="#bf00bf" stroke="#000" stroke-width="1"/>
<circle cx="175.8" cy="373.2" r="4.17" fill="#bf00bf" stroke="#000" stroke-width="1"/>
<circle cx="178.9" cy="373.8" r="4.17" fill="#bf00bf" stroke="#000" stroke-width="1"/>
<circle cx="181" cy="373.8" r="4.17" fill="#bf00bf" stroke="#000" stroke-width="1"/>
<circle cx="192.6" cy="373.2" r="4.17" fill="#bf00bf" stroke="#000" stroke-width="1"/>
<circle cx="191.2" cy="376.5" r="4.17" fill="#bf00bf" stroke="#000" stroke-width="1"/>
<circle cx="198.1" cy="372.1" r="4.17" fill="#bf00bf" stroke="#000" stroke-width="1"/>
<circle cx="185.5" cy="380.5" r="4.17" fill="#bf00bf" stroke="#000" stroke-width="1"/>
<circle cx="199.2" cy="382.6" r="4.17" fill="#bf00bf" stroke="#000" stroke-width="1"/>
<circle cx="195.9" cy="383.2" r="4.17" fill="#bf00bf" stroke="#000" stroke-width="1"/>
<circle cx="186" cy="373.5" r="4.17" fill="#bf00bf" stroke="#000" stroke-width="1"/>
<circle cx="180.5" cy="381.7" r="4.17" fill="#bf00bf" stroke="#000" stroke-width="1"/>
<circle cx="190.4" cy="381.7" r="4.17" fill="#bf00bf" stroke="#000" stroke-width="1"/>
<circle cx="197.8" cy="379.5" r="4.17" fill="#bf00bf" stroke="#000" stroke-width="1"/>
<path d="M100.4 378.5H381.82" stroke="#0000ff" stroke-width="1.25" stroke-dasharray="8.33 8.33"/>
<path d="M100.4 378.5H381.82" stroke="#ff0000" stroke-width="1.25" stroke-dasharray="8.33 8.33"/>
<path d="M100.4 369.5H381.82" stroke="#0000ff" stroke-width="1.3" stroke-dasharray="4.17 6.94 1.39 6.94"/>
<path d="M100.4 387.3H381.82" stroke="#0000ff" stroke-width="1.3" stroke-dasharray="4.17 6.94 1.39 6.94"/>
</g>
<rect x="100.5" y="60.5" width="281.82" height="480.0" fill="none" stroke="#000" stroke-width="1.4"/>
<text x="100.50" y="559.80" font-size="17.4" text-anchor="middle" textLength="34" lengthAdjust="spacingAndGlyphs">−20</text>
<text x="138.50" y="559.80" font-size="17.4" text-anchor="middle" textLength="34" lengthAdjust="spacingAndGlyphs">−18</text>
<text x="175.50" y="559.80" font-size="17.4" text-anchor="middle" textLength="34" lengthAdjust="spacingAndGlyphs">−16</text>
<text x="213.50" y="559.80" font-size="17.4" text-anchor="middle" textLength="34" lengthAdjust="spacingAndGlyphs">−14</text>
<text x="250.50" y="559.80" font-size="17.4" text-anchor="middle" textLength="34" lengthAdjust="spacingAndGlyphs">−12</text>
<text x="288.50" y="559.80" font-size="17.4" text-anchor="middle" textLength="34" lengthAdjust="spacingAndGlyphs">−10</text>
<text x="325.50" y="559.80" font-size="17.4" text-anchor="middle" textLength="24" lengthAdjust="spacingAndGlyphs">−8</text>
<text x="363.50" y="559.80" font-size="17.4" text-anchor="middle" textLength="24" lengthAdjust="spacingAndGlyphs">−6</text>
<text x="117.50" y="49.60" font-size="17.4" text-anchor="middle" textLength="20" lengthAdjust="spacingAndGlyphs">14</text>
<text x="155.50" y="49.60" font-size="17.4" text-anchor="middle" textLength="20" lengthAdjust="spacingAndGlyphs">16</text>
<text x="192.50" y="49.60" font-size="17.4" text-anchor="middle" textLength="20" lengthAdjust="spacingAndGlyphs">18</text>
<text x="230.50" y="49.60" font-size="17.4" text-anchor="middle" textLength="20" lengthAdjust="spacingAndGlyphs">20</text>
<text x="267.50" y="49.60" font-size="17.4" text-anchor="middle" textLength="20" lengthAdjust="spacingAndGlyphs">22</text>
<text x="305.50" y="49.60" font-size="17.4" text-anchor="middle" textLength="20" lengthAdjust="spacingAndGlyphs">24</text>
<text x="343.50" y="49.60" font-size="17.4" text-anchor="middle" textLength="20" lengthAdjust="spacingAndGlyphs">26</text>
<text x="380.50" y="49.60" font-size="17.4" text-anchor="middle" textLength="20" lengthAdjust="spacingAndGlyphs">28</text>
<text x="94.80" y="544.70" font-size="17.4" text-anchor="end" textLength="10" lengthAdjust="spacingAndGlyphs">0</text>
<text x="94.80" y="424.70" font-size="17.4" text-anchor="end" textLength="10" lengthAdjust="spacingAndGlyphs">5</text>
<text x="94.80" y="304.70" font-size="17.4" text-anchor="end" textLength="20" lengthAdjust="spacingAndGlyphs">10</text>
<text x="94.80" y="184.70" font-size="17.4" text-anchor="end" textLength="20" lengthAdjust="spacingAndGlyphs">15</text>
<text x="94.80" y="64.70" font-size="17.4" text-anchor="end" textLength="20" lengthAdjust="spacingAndGlyphs">20</text>
<path d="M100.50 540.5v-6.2M138.50 540.5v-6.2M175.50 540.5v-6.2M213.50 540.5v-6.2M250.50 540.5v-6.2M288.50 540.5v-6.2M325.50 540.5v-6.2M363.50 540.5v-6.2M118.50 60.5v6.2M156.50 60.5v6.2M193.50 60.5v6.2M231.50 60.5v6.2M268.50 60.5v6.2M306.50 60.5v6.2M344.50 60.5v6.2M381.50 60.5v6.2M100.5 540.5h6.2M382.32 540.5h-6.2M100.5 420.5h6.2M382.32 420.5h-6.2M100.5 300.5h6.2M382.32 300.5h-6.2M100.5 180.5h6.2M382.32 180.5h-6.2M100.5 60.5h6.2M382.32 60.5h-6.2" stroke="#000" stroke-width="0.85" fill="none"/>
<text font-size="16.67" text-anchor="middle" transform="translate(241.91 583.50) scale(1 1.08)">magnitude (bottom:isnt / top:calib)</text>
<text font-size="16.67" text-anchor="middle" transform="translate(63.80 300.00) rotate(-90) scale(1 1.08)">FWHM (pix)</text>
<text font-size="20" text-anchor="middle" transform="translate(226.91 29.00) scale(1 1.03)">FWHM vs magnitudes</text>
<rect x="438.68" y="346.40" width="80.52" height="64.20" fill="#0000ff" stroke="#000" stroke-width="1.3"/>
<rect x="438.68" y="282.50" width="233.51" height="63.90" fill="#0000ff" stroke="#000" stroke-width="1.3"/>
<rect x="438.68" y="218.00" width="152.99" height="64.50" fill="#0000ff" stroke="#000" stroke-width="1.3"/>
<path d="M438.48 316.5H720.0" stroke="#000" stroke-width="1.39" stroke-dasharray="8.33 8.33"/>
<rect x="438.68" y="60.5" width="281.82" height="480.0" fill="none" stroke="#000" stroke-width="1.4"/>
<text x="438.50" y="559.80" font-size="17.4" text-anchor="middle" textLength="10" lengthAdjust="spacingAndGlyphs">0</text>
<text x="478.50" y="559.80" font-size="17.4" text-anchor="middle" textLength="10" lengthAdjust="spacingAndGlyphs">5</text>
<text x="519.50" y="559.80" font-size="17.4" text-anchor="middle" textLength="20" lengthAdjust="spacingAndGlyphs">10</text>
<text x="559.50" y="559.80" font-size="17.4" text-anchor="middle" textLength="20" lengthAdjust="spacingAndGlyphs">15</text>
<text x="599.50" y="559.80" font-size="17.4" text-anchor="middle" textLength="20" lengthAdjust="spacingAndGlyphs">20</text>
<text x="639.50" y="559.80" font-size="17.4" text-anchor="middle" textLength="20" lengthAdjust="spacingAndGlyphs">25</text>
<text x="680.50" y="559.80" font-size="17.4" text-anchor="middle" textLength="20" lengthAdjust="spacingAndGlyphs">30</text>
<text x="720.50" y="559.80" font-size="17.4" text-anchor="middle" textLength="20" lengthAdjust="spacingAndGlyphs">35</text>
<text x="433.58" y="544.70" font-size="17.4" text-anchor="end" textLength="25" lengthAdjust="spacingAndGlyphs">6.0</text>
<text x="433.58" y="484.70" font-size="17.4" text-anchor="end" textLength="25" lengthAdjust="spacingAndGlyphs">6.2</text>
<text x="433.58" y="424.70" font-size="17.4" text-anchor="end" textLength="25" lengthAdjust="spacingAndGlyphs">6.4</text>
<text x="433.58" y="364.70" font-size="17.4" text-anchor="end" textLength="25" lengthAdjust="spacingAndGlyphs">6.6</text>
<text x="433.58" y="304.70" font-size="17.4" text-anchor="end" textLength="25" lengthAdjust="spacingAndGlyphs">6.8</text>
<text x="433.58" y="244.70" font-size="17.4" text-anchor="end" textLength="25" lengthAdjust="spacingAndGlyphs">7.0</text>
<text x="433.58" y="184.70" font-size="17.4" text-anchor="end" textLength="25" lengthAdjust="spacingAndGlyphs">7.2</text>
<text x="433.58" y="124.70" font-size="17.4" text-anchor="end" textLength="25" lengthAdjust="spacingAndGlyphs">7.4</text>
<text x="433.58" y="64.70" font-size="17.4" text-anchor="end" textLength="25" lengthAdjust="spacingAndGlyphs">7.6</text>
<path d="M438.50 540.5v-6.2M438.50 60.5v6.2M478.50 540.5v-6.2M478.50 60.5v6.2M519.50 540.5v-6.2M519.50 60.5v6.2M559.50 540.5v-6.2M559.50 60.5v6.2M599.50 540.5v-6.2M599.50 60.5v6.2M639.50 540.5v-6.2M639.50 60.5v6.2M680.50 540.5v-6.2M680.50 60.5v6.2M720.50 540.5v-6.2M720.50 60.5v6.2M438.68 540.50h6.2M720.50 540.50h-6.2M438.68 480.50h6.2M720.50 480.50h-6.2M438.68 420.50h6.2M720.50 420.50h-6.2M438.68 360.50h6.2M720.50 360.50h-6.2M438.68 300.50h6.2M720.50 300.50h-6.2M438.68 240.50h6.2M720.50 240.50h-6.2M438.68 180.50h6.2M720.50 180.50h-6.2M438.68 120.50h6.2M720.50 120.50h-6.2M438.68 60.50h6.2M720.50 60.50h-6.2" stroke="#000" stroke-width="0.85" fill="none"/>
<text font-size="16.67" text-anchor="middle" transform="translate(579.89 583.50) scale(1 1.08)">number of sources</text>
<text font-size="16.67" text-anchor="middle" transform="translate(396.20 300.00) rotate(-90) scale(1 1.08)">FWHM of best-effort PSF-like sources</text>
<text font-size="20" text-anchor="middle" transform="translate(579.89 53.50) scale(1 1.02)">histogram of FWHM</text>
<rect x="27.5" y="70.5" width="345.0" height="180.0" fill="#fff" stroke="#000" stroke-width="1.4"/>
<path d="M37.33 86.5h8.33M41.5 82.33v8.33" stroke="#00bfbf" stroke-width="0.7" fill="none"/>
<path d="M37.33 111.33l8.33 8.33M37.33 119.67l8.33 -8.33" stroke="#0000ff" stroke-width="0.7" fill="none"/>
<circle cx="41.5" cy="144.5" r="4.17" fill="#bf00bf" stroke="#000" stroke-width="0.7"/>
<path d="M65.33 86.5h8.33M69.5 82.33v8.33" stroke="#00bfbf" stroke-width="0.7" fill="none"/>
<path d="M65.33 111.33l8.33 8.33M65.33 119.67l8.33 -8.33" stroke="#0000ff" stroke-width="0.7" fill="none"/>
<circle cx="69.5" cy="144.5" r="4.17" fill="#bf00bf" stroke="#000" stroke-width="0.7"/>
<path d="M41.5 173.5H69.5" stroke="#0000ff" stroke-width="1.39" stroke-dasharray="8.33 8.33"/>
<path d="M41.5 202.5H69.5" stroke="#ff0000" stroke-width="1.39" stroke-dasharray="8.33 8.33"/>
<path d="M41.5 231.5H69.5" stroke="#0000ff" stroke-width="1.39" stroke-dasharray="4.17 6.94 1.39 6.94"/>
<text font-size="20" text-anchor="start" transform="translate(90.60 93.00) scale(1 1.0)">all sample</text>
<text font-size="20" text-anchor="start" transform="translate(90.60 122.00) scale(1 1.0)">sample for rough FWHM</text>
<text font-size="20" text-anchor="start" transform="translate(90.60 151.00) scale(1 1.0)">best-effort PSF-like sample</text>
<text font-size="20" text-anchor="start" transform="translate(90.60 180.00) scale(1 1.0)">resultant FWHM: 6.75</text>
<text font-size="20" text-anchor="start" transform="translate(90.60 209.00) scale(1 1.0)">median FHWM of sequence</text>
<text font-size="20" text-anchor="start" transform="translate(90.60 238.00) scale(1 1.0)">sigma range</text>
</svg>
</body></html>
